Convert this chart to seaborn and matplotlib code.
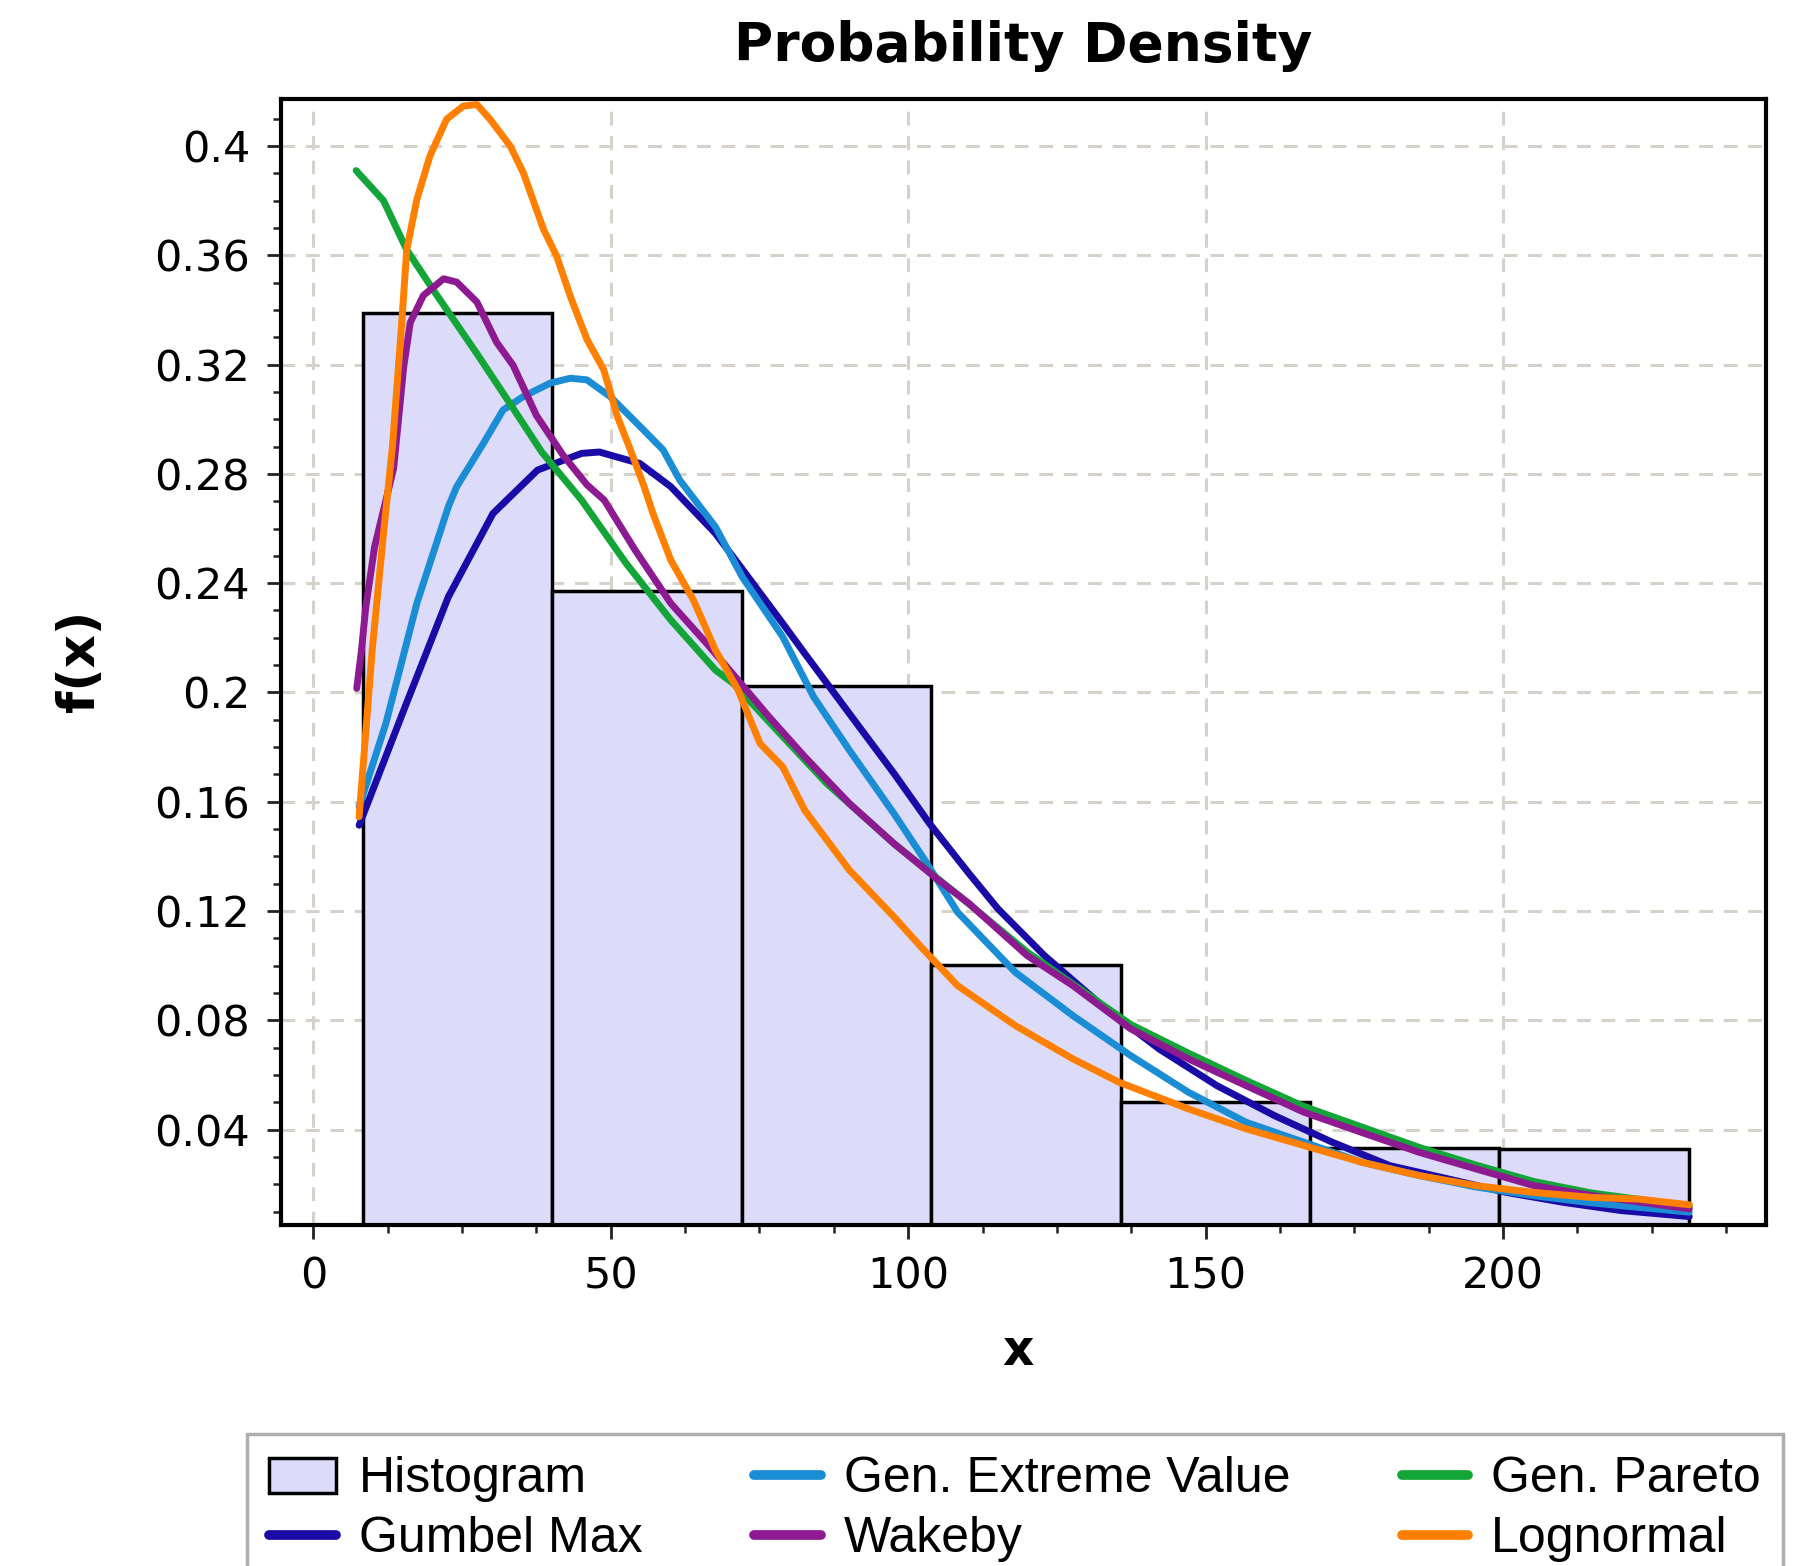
import numpy as np
import pandas as pd
import matplotlib
matplotlib.use('Agg')
import matplotlib.pyplot as plt
import seaborn as sns
from matplotlib.ticker import MultipleLocator, FuncFormatter
from matplotlib.patches import Patch
from matplotlib.lines import Line2D

# ---------------- data ----------------
bin_edges = [8.3, 40.15, 72.0, 103.85, 135.7, 167.55, 199.4, 231.25]
hist_heights = [0.339, 0.237, 0.2025, 0.1004, 0.050, 0.0332, 0.0330]

gumbel_x = [7.7, 15.2, 22.7, 30.2, 37.7, 45.1, 48.1, 54.9, 60.1, 67.6, 71.4, 78.9, 82.6,
            90.1, 97.6, 103.6, 110.2, 115.1, 122.9, 132.6, 142.2, 151.9, 161.6, 171.3,
            181.0, 190.7, 200.4, 210.1, 219.8, 231.3]
gumbel_y = [0.1514, 0.1935, 0.235, 0.2655, 0.2814, 0.2875, 0.288, 0.2838, 0.2753, 0.2582,
            0.2472, 0.2253, 0.2143, 0.1923, 0.1704, 0.152, 0.1338, 0.1208, 0.1037, 0.0854,
            0.0695, 0.0561, 0.0451, 0.0354, 0.0268, 0.022, 0.0171, 0.0134, 0.0104, 0.0082]

gev_x = [7.7, 12.2, 17.4, 22.7, 24.1, 28.6, 31.9, 35.3, 39.8, 43.2, 46.0, 49.9, 54.4, 58.8,
         61.6, 67.6, 72.1, 78.9, 84.1, 90.1, 97.6, 102.8, 108.3, 118.0, 127.7, 137.4,
         147.1, 156.8, 166.5, 176.2, 185.9, 195.5, 205.2, 214.9, 231.3]
gev_y = [0.1582, 0.1887, 0.2326, 0.268, 0.2753, 0.2912, 0.3034, 0.3083, 0.3132, 0.315,
         0.3144, 0.3083, 0.2985, 0.2888, 0.2777, 0.2606, 0.2423, 0.2204, 0.1984, 0.1789,
         0.1557, 0.1386, 0.1196, 0.0976, 0.0817, 0.0671, 0.0537, 0.0427, 0.0354, 0.0281,
         0.0232, 0.019, 0.0158, 0.0132, 0.0098]

pareto_x = [7.2, 11.8, 15.7, 20.7, 27.5, 33.1, 38.4, 45.1, 52.6, 60.1, 67.6, 70.6, 77.4,
            86.3, 97.6, 108.1, 120.0, 137.4, 147.1, 156.8, 166.5, 176.2, 185.9, 195.5,
            205.2, 214.9, 231.3]
pareto_y = [0.391, 0.380, 0.362, 0.3456, 0.324, 0.3056, 0.288, 0.2704, 0.2472, 0.2265,
            0.2082, 0.2033, 0.1874, 0.1667, 0.1447, 0.1264, 0.105, 0.0785, 0.068, 0.058,
            0.0485, 0.041, 0.0335, 0.027, 0.021, 0.0168, 0.012]

wakeby_x = [7.3, 8.1, 8.8, 10.3, 13.5, 15.2, 16.3, 18.5, 21.9, 24.1, 27.5, 30.8, 33.6, 37.5,
            42.0, 46.0, 48.9, 54.1, 60.1, 66.1, 71.4, 76.6, 82.6, 90.1, 97.6, 105.1, 110.2,
            120.0, 127.7, 137.4, 147.1, 156.8, 166.5, 176.2, 185.9, 195.5, 205.2, 214.9,
            231.3]
wakeby_y = [0.2015, 0.2155, 0.231, 0.2533, 0.282, 0.3192, 0.3354, 0.3453, 0.3514, 0.3502,
            0.3429, 0.3282, 0.3197, 0.3014, 0.2868, 0.276, 0.2704, 0.2521, 0.2326, 0.218,
            0.2045, 0.1911, 0.1765, 0.1594, 0.1447, 0.1313, 0.1228, 0.1037, 0.0927, 0.0769,
            0.0659, 0.0561, 0.0464, 0.039, 0.0317, 0.0256, 0.0195, 0.0159, 0.011]

lognorm_x = [7.7, 9.9, 11.8, 13.3, 14.9, 15.7, 17.4, 19.6, 22.4, 25.2, 27.5, 29.7, 33.1,
             35.3, 38.7, 40.9, 43.2, 46.0, 48.8, 51.1, 53.3, 55.6, 57.1, 60.1, 63.9, 67.6,
             71.4, 75.1, 78.9, 82.6, 90.1, 97.6, 102.1, 108.3, 118.0, 127.7, 135.5, 147.1,
             156.8, 166.5, 176.2, 185.9, 195.5, 205.2, 214.9, 222.7, 231.3]
lognorm_y = [0.1545, 0.2155, 0.2582, 0.29, 0.3364, 0.362, 0.3804, 0.3963, 0.4098, 0.4146,
             0.4152, 0.4098, 0.400, 0.3902, 0.3695, 0.3597, 0.345, 0.3292, 0.3182, 0.3011,
             0.2888, 0.2754, 0.2655, 0.2484, 0.2338, 0.2155, 0.2009, 0.1813, 0.1728, 0.1569,
             0.135, 0.1179, 0.107, 0.0927, 0.0781, 0.0659, 0.0573, 0.0476, 0.0403, 0.0342,
             0.0281, 0.0232, 0.0195, 0.017, 0.0152, 0.0146, 0.0125]

series_names = ["Gumbel Max", "Gen. Extreme Value", "Gen. Pareto", "Wakeby", "Lognormal"]
series_colors = ["#1a0aa6", "#1b8dd4", "#13a538", "#8e1a92", "#ff8000"]

x_ticks = [0, 50, 100, 150, 200]

# ---------------- plotting ----------------
sns.set_theme(style='white')
plt.rcParams['font.family'] = ['DejaVu Sans']

W, H = 1803, 1566
fig = plt.figure(figsize=(W / 100, H / 100), dpi=100)
fig.patch.set_facecolor('white')
ax = fig.add_axes([280.6 / W, 1 - 1225 / H, (1766 - 280.6) / W, (1225 - 99) / H])
ax.set_facecolor('white')
ax.set_axisbelow(True)

hist_fill = '#dcdcfa'
centers = [(a + b) / 2 for a, b in zip(bin_edges[:-1], bin_edges[1:])]
hist_df = pd.DataFrame({'x': centers, 'w': hist_heights})
sns.histplot(data=hist_df, x='x', weights='w', bins=bin_edges, stat='count',
             color=hist_fill, edgecolor='black', linewidth=2.5, alpha=1.0, ax=ax, zorder=2)

curves = [(gumbel_x, gumbel_y), (gev_x, gev_y), (pareto_x, pareto_y),
          (wakeby_x, wakeby_y), (lognorm_x, lognorm_y)]
zorders = [3, 3, 3, 4, 5]
for (cx, cy), name, col, zo in zip(curves, series_names, series_colors, zorders):
    df = pd.DataFrame({'x': cx, 'y': cy})
    sns.lineplot(data=df, x='x', y='y', color=col, linewidth=5.0, ax=ax,
                 estimator=None, sort=False, legend=False, zorder=zo)

ax.set_xlim(-5.5, 244.2)
ax.set_ylim(0.0051, 0.4172)
ax.set_xlabel('')
ax.set_ylabel('')

ax.xaxis.set_major_locator(matplotlib.ticker.FixedLocator(x_ticks))
ax.xaxis.set_minor_locator(MultipleLocator(12.5))
ax.yaxis.set_major_locator(MultipleLocator(0.04))
ax.yaxis.set_minor_locator(MultipleLocator(0.01))
ax.yaxis.set_major_formatter(FuncFormatter(lambda v, p: f'{v:g}'))

ax.tick_params(axis='both', which='major', direction='out', length=10, width=2,
               labelsize=31, pad=12, color='#222222', labelcolor='black',
               bottom=True, left=True)
ax.tick_params(axis='both', which='minor', direction='out', length=6, width=1.8,
               color='#222222', bottom=True, left=True)

ax.grid(True, which='major', color='#d6d2ca', linestyle=(0, (4.5, 3.5)), linewidth=2.2)

for s in ax.spines.values():
    s.set_visible(True)
    s.set_color('black')
    s.set_linewidth(3)

fig.text(1023 / W, 1 - 46 / H, 'Probability Density', ha='center', va='center',
         fontsize=38.5, fontweight='bold', color='black')
fig.text(1018 / W, 1 - 1351 / H, 'x', ha='center', va='center', fontsize=35,
         fontweight='bold', color='black')
fig.text(80 / W, 1 - 661 / H, 'f(x)', ha='center', va='center', fontsize=37,
         fontweight='bold', rotation=90, color='black')

handles = [Patch(facecolor=hist_fill, edgecolor='black', linewidth=2.5)]
handles += [Line2D([], [], color=c, linewidth=7) for c in series_colors]
labels = ["Histogram"] + series_names
# column-major fill: col1 Histogram/Gumbel, col2 GEV/Wakeby, col3 Pareto/Lognormal
hh = [handles[0], handles[1], handles[2], handles[4], handles[3], handles[5]]
ll = [labels[0], labels[1], labels[2], labels[4], labels[3], labels[5]]
leg = fig.legend(hh, ll, loc='upper left', bbox_to_anchor=(247 / W, 1 - 1434 / H),
                 ncol=3, frameon=True, fancybox=False, borderaxespad=0,
                 prop={'family': 'Liberation Sans', 'size': 36},
                 handlelength=1.33, handletextpad=0.46, columnspacing=2.23,
                 labelspacing=0.28, borderpad=0.45)
leg.get_frame().set_edgecolor('#9a9a9a')
leg.get_frame().set_linewidth(2.5)
for t in leg.get_texts():
    t.set_color('black')

fig.savefig('out.png', dpi=100, facecolor='white')
